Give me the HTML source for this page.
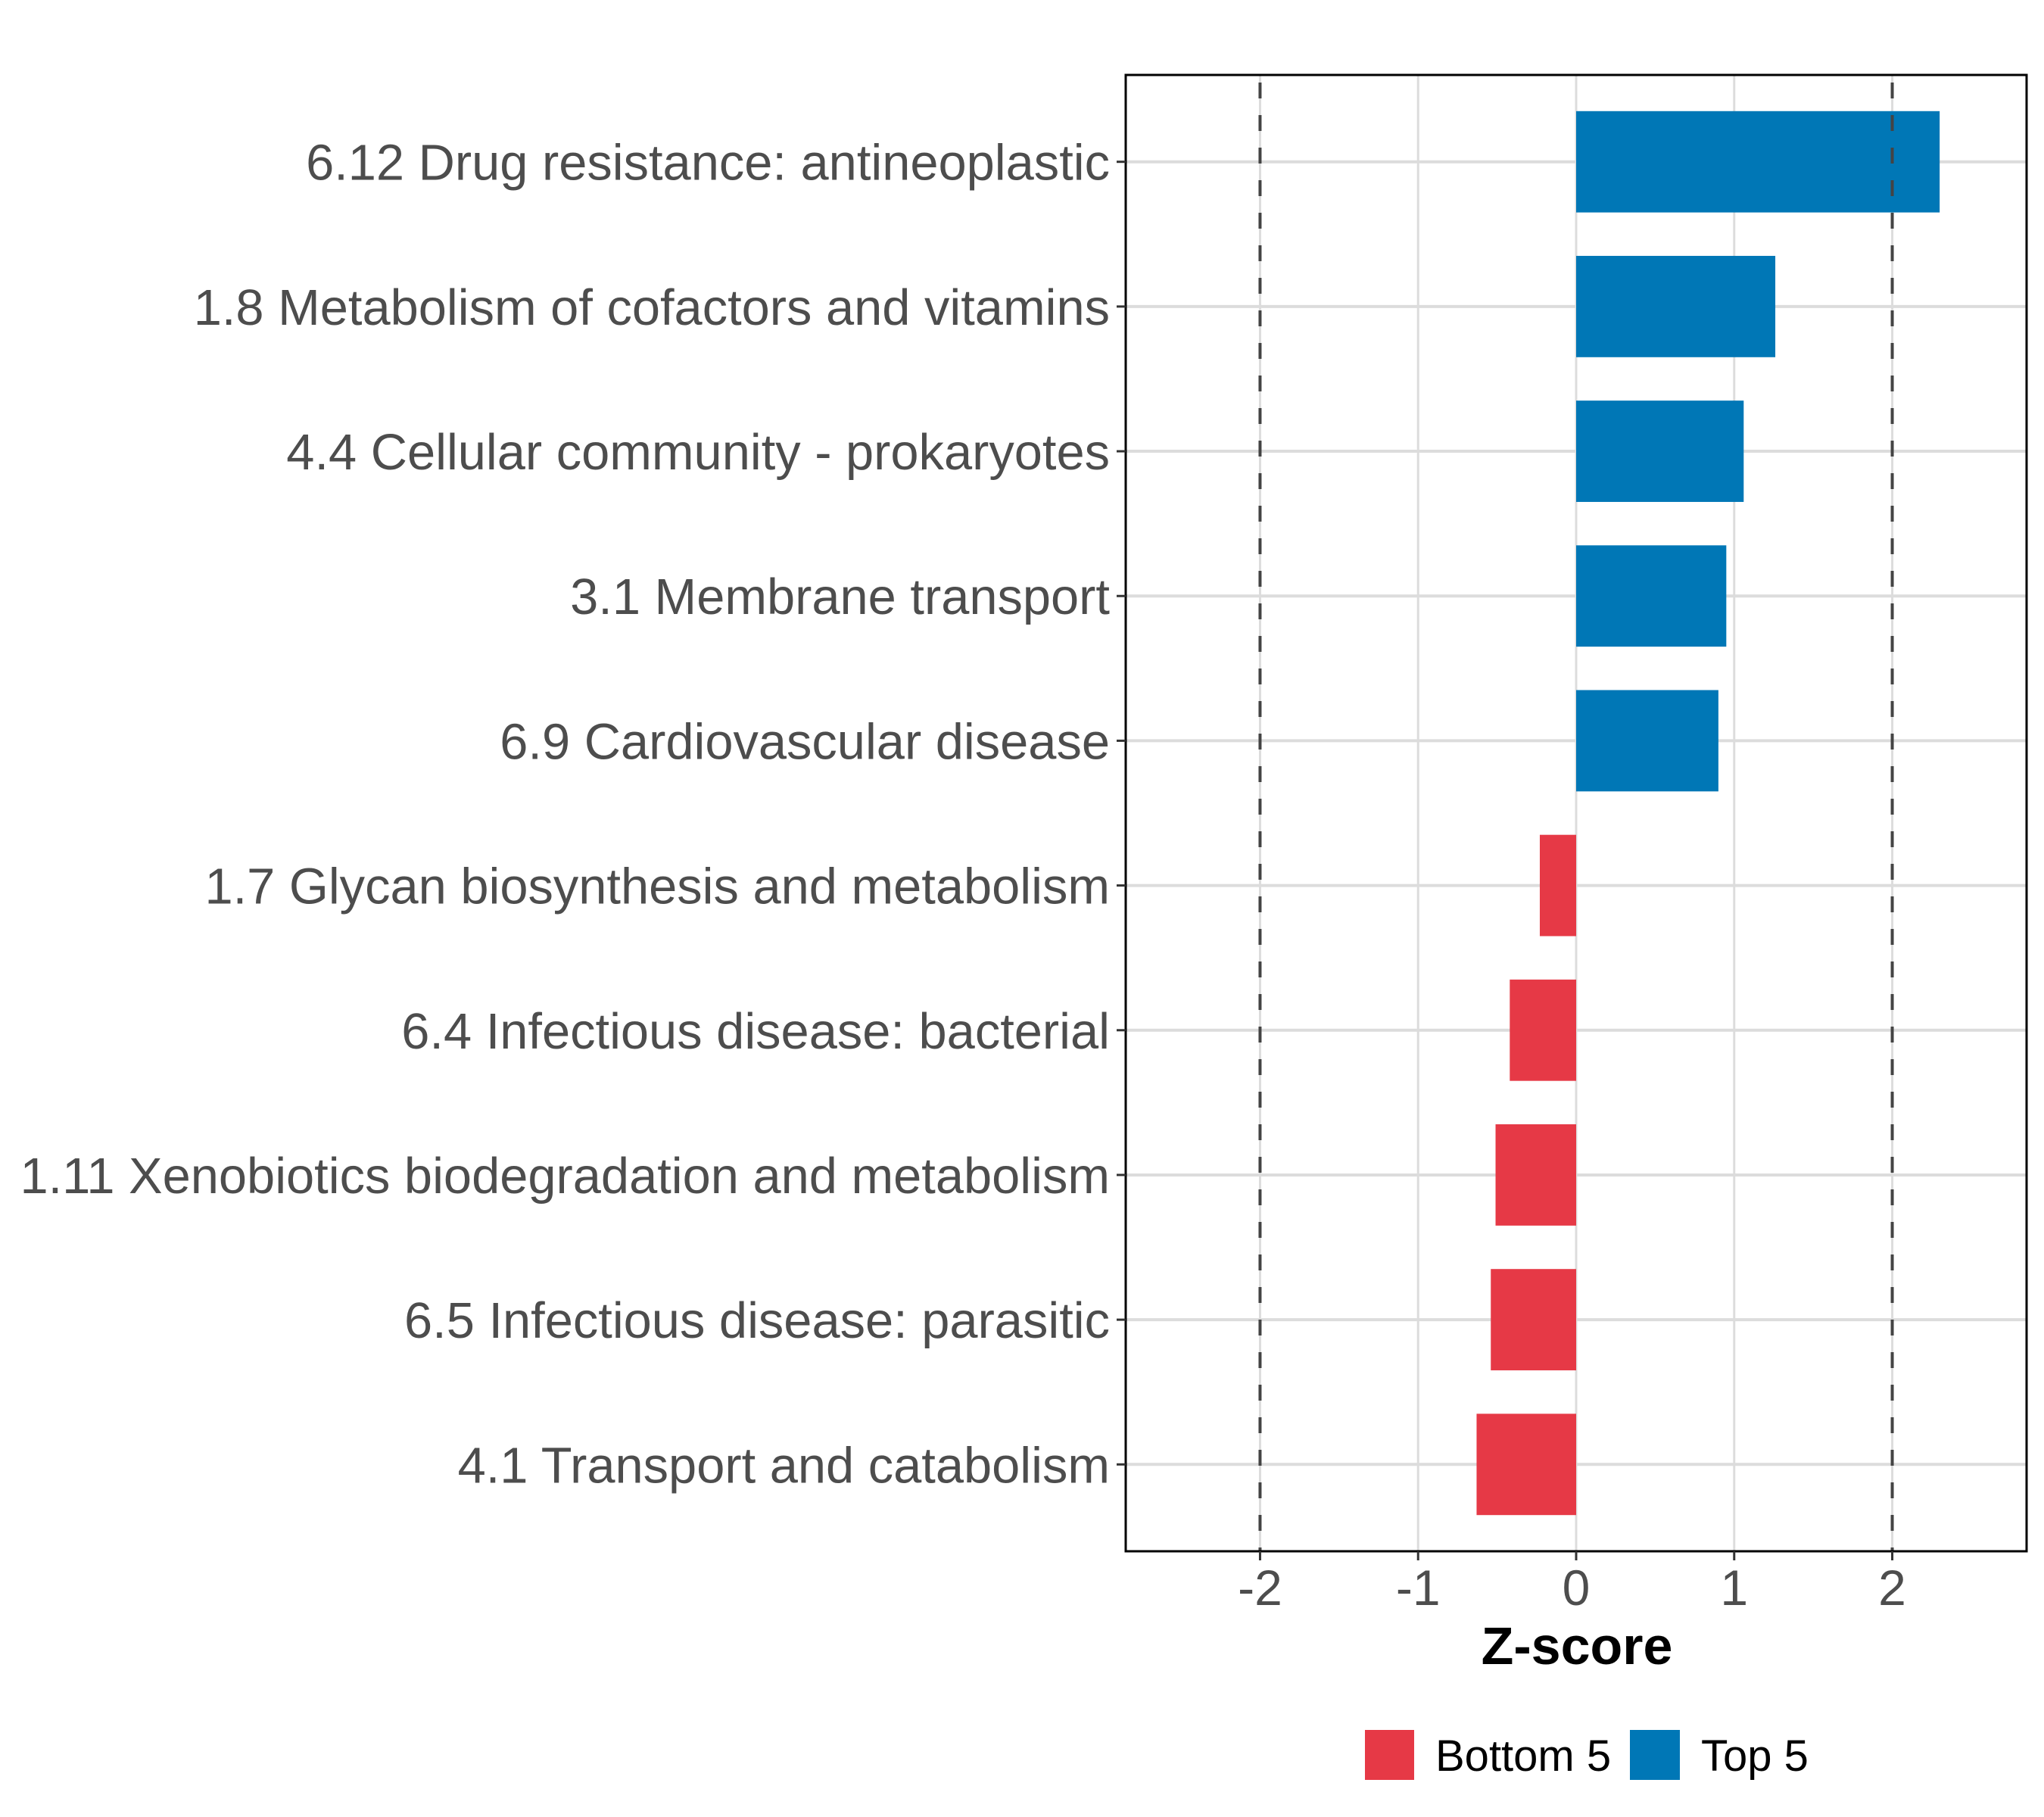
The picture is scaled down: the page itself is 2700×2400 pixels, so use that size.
<!DOCTYPE html>
<html><head><meta charset="utf-8"><style>
html,body{margin:0;padding:0;background:#fff}
svg{display:block}
text{font-family:"Liberation Sans",Arial,sans-serif}
</style></head><body>
<svg id="chart" width="2700" height="2400" viewBox="0 0 2700 2400" xmlns="http://www.w3.org/2000/svg">
<rect x="0" y="0" width="2700" height="2400" fill="#fff"/>
<g id="grid"></g>
<g id="bars"></g>
<g id="refs"></g>
<rect x="1487" y="99" width="1190" height="1950" fill="none" stroke="#000" stroke-width="3"/>
<g id="yaxis"></g>
<g id="xaxis"></g>
<text x="2083" y="2198" font-size="70" font-weight="bold" text-anchor="middle" fill="#000">Z-score</text>
<g>
<rect x="1803" y="2285" width="65" height="66" fill="#E63946"/>
<text x="1896" y="2339" font-size="58" fill="#000">Bottom 5</text>
<rect x="2153" y="2285" width="66" height="66" fill="#0077B6"/>
<text x="2247" y="2339" font-size="58" fill="#000">Top 5</text>
</g>
</svg>
<script>
const categories = ["6.12 Drug resistance: antineoplastic","1.8 Metabolism of cofactors and vitamins","4.4 Cellular community - prokaryotes","3.1 Membrane transport","6.9 Cardiovascular disease","1.7 Glycan biosynthesis and metabolism","6.4 Infectious disease: bacterial","1.11 Xenobiotics biodegradation and metabolism","6.5 Infectious disease: parasitic","4.1 Transport and catabolism"];
const zscores = [2.30, 1.26, 1.06, 0.95, 0.90, -0.23, -0.42, -0.51, -0.54, -0.63];
const groups = ["Top 5","Top 5","Top 5","Top 5","Top 5","Bottom 5","Bottom 5","Bottom 5","Bottom 5","Bottom 5"];
const xTicks = [-2, -1, 0, 1, 2];
const xTickLabels = ["-2", "-1", "0", "1", "2"];
const refValues = [-2, 2];

const NS = "http://www.w3.org/2000/svg";
const P = {l:1487, r:2677, t:99, b:2049};
const xMin = -2.85, xMax = 2.85;
function xs(v){ return P.l + (v - xMin) / (xMax - xMin) * (P.r - P.l); }
const step = (P.b - P.t) / (categories.length + 0.2);
function ys(i){ return P.t + step * 0.6 + i * step; }
const bandH = step * 0.7;
const colors = {"Top 5":"#0077B6","Bottom 5":"#E63946"};
function mk(tag, attrs, parent){ const e=document.createElementNS(NS,tag); for(const k in attrs) e.setAttribute(k,attrs[k]); parent.appendChild(e); return e; }

const grid=document.getElementById('grid'), bars=document.getElementById('bars'), refs=document.getElementById('refs'), yax=document.getElementById('yaxis'), xax=document.getElementById('xaxis');
xTicks.forEach((t,i)=>{
  const g=mk('line',{x1:xs(t),x2:xs(t),y1:P.t,y2:P.b,stroke:'#dcdcdc','stroke-width':3},grid);
  
  
  const tk=mk('line',{x1:xs(t),x2:xs(t),y1:P.b,y2:P.b+12,stroke:'#333','stroke-width':3},xax);
  
  
  const lb=mk('text',{x:xs(t),y:2120,'font-size':66,'text-anchor':'middle',fill:'#4d4d4d'},xax);
  lb.textContent=xTickLabels[i];
  
  
});
categories.forEach((c,i)=>{
  const y=ys(i);
  const g=mk('line',{x1:P.l,x2:P.r,y1:y,y2:y,stroke:'#dcdcdc','stroke-width':4},grid);
  
  
  const v=zscores[i];
  const b=mk('rect',{x:Math.min(xs(0),xs(v)),y:y-bandH/2,width:Math.abs(xs(v)-xs(0)),height:bandH,fill:colors[groups[i]]},bars);
  
  
  const tk=mk('line',{x1:P.l-12,x2:P.l,y1:y,y2:y,stroke:'#333','stroke-width':3},yax);
  
  
  const lb=mk('text',{x:1466,y:y+24,'font-size':66.8,'text-anchor':'end',fill:'#4d4d4d'},yax);
  lb.textContent=c;
  
  
});
refValues.forEach(v=>{
  const l=mk('line',{x1:xs(v),x2:xs(v),y1:P.t,y2:P.b,stroke:'#444','stroke-width':4,'stroke-dasharray':'21 22','stroke-dashoffset':'-10'},refs);
  
  
});
</script>
</body></html>
